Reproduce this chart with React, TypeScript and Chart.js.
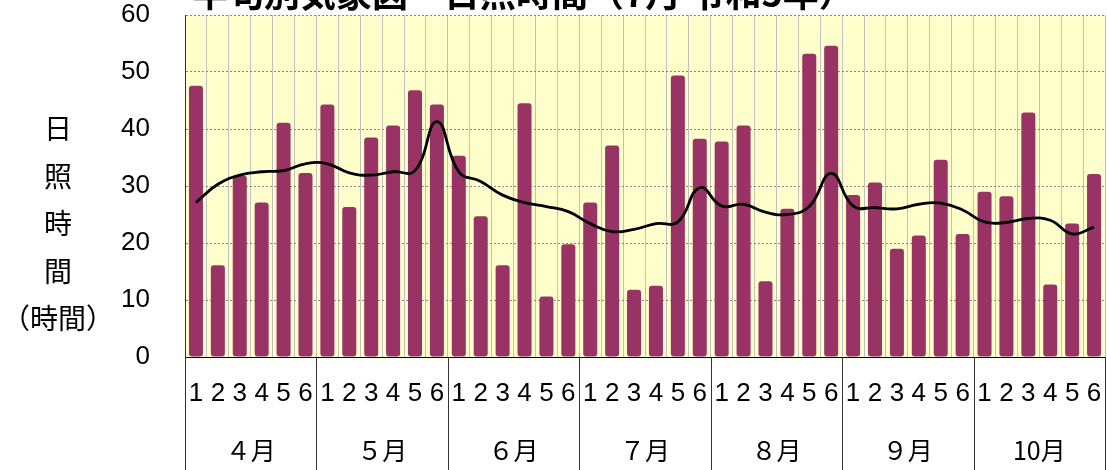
import React, { useEffect, useRef } from "react";
import { Chart, registerables } from "chart.js";

Chart.register(...registerables);

const TITLE = "半旬別気象図　日照時間（7月 令和5年）";
const Y_TITLE_CHARS = ["日", "照", "時", "間"];
const Y_TITLE_UNIT = "（時間）";

const months = ["４月", "５月", "６月", "７月", "８月", "９月", "10月"];
const pentads = ["1", "2", "3", "4", "5", "6"];
const categories: string[] = months.flatMap(() => pentads);

const sunshine = [
  47.6, 16.1, 31.8, 27.1, 41.1, 32.3,
  44.3, 26.3, 38.5, 40.6, 46.8, 44.3,
  35.3, 24.7, 16.1, 44.5, 10.6, 19.8,
  27.1, 37.1, 11.8, 12.5, 49.4, 38.3,
  37.8, 40.6, 13.3, 26.0, 53.2, 54.6,
  28.4, 30.6, 19.0, 21.3, 34.6, 21.6,
  29.0, 28.2, 42.9, 12.7, 23.4, 32.1,
];

const normal = [
  27.1, 30.3, 31.9, 32.5, 32.7, 33.9,
  33.9, 32.3, 31.9, 32.5, 32.7, 41.3,
  32.5, 30.8, 28.4, 27.1, 26.4, 25.5,
  23.4, 22.0, 22.4, 23.4, 23.7, 29.7,
  26.5, 26.8, 25.4, 25.0, 26.4, 32.2,
  26.5, 26.2, 26.0, 26.8, 27.0, 25.8,
  23.7, 23.6, 24.3, 24.0, 21.6, 22.8,
];

const yTicks = [0, 10, 20, 30, 40, 50, 60];

const CJK = '"Noto Sans CJK JP", sans-serif';
const NUM = '"Liberation Sans", Arial, sans-serif';

const decor = {
  id: "decor",
  beforeDraw(chart: any) {
    const { ctx, chartArea } = chart;
    ctx.save();
    ctx.fillStyle = "#FFFFCC";
    ctx.fillRect(chartArea.left, chartArea.top, chartArea.right - chartArea.left, chartArea.bottom - chartArea.top);
    ctx.restore();
  },
  afterDraw(chart: any) {
    const { ctx, chartArea } = chart;
    const xs = chart.scales.x;
    ctx.save();
    ctx.strokeStyle = "#333";
    ctx.lineWidth = 1;
    for (let k = 0; k <= months.length; k++) {
      const x = Math.round(xs.getPixelForValue(k * pentads.length - 0.5)) + 0.5;
      ctx.beginPath();
      ctx.moveTo(x, k === 0 ? chartArea.top : chartArea.bottom);
      ctx.lineTo(x, chart.height);
      ctx.stroke();
    }
    ctx.fillStyle = "#000";
    ctx.font = `bold 36px ${CJK}`;
    ctx.textAlign = "left";
    ctx.textBaseline = "alphabetic";
    ctx.fillText(TITLE, 192, 7);
    ctx.font = `28px ${CJK}`;
    ctx.textAlign = "center";
    ctx.textBaseline = "middle";
    const ys = [128, 176, 223, 271];
    Y_TITLE_CHARS.forEach((c, i) => ctx.fillText(c, 58, ys[i]));
    ctx.fillText(Y_TITLE_UNIT, 58, 318);
    ctx.restore();
  },
};

const noPad = (s: any) => {
  s.paddingTop = 0;
  s.paddingBottom = 0;
  s.paddingLeft = 0;
  s.paddingRight = 0;
};

export default function App() {
  const ref = useRef<HTMLCanvasElement>(null);
  useEffect(() => {
    if (!ref.current) return;
    const chart = new Chart(ref.current, {
      type: "bar",
      data: {
        labels: categories,
        datasets: [
          {
            type: "line",
            data: normal,
            borderColor: "#000",
            borderWidth: 2.8,
            pointRadius: 0,
            tension: 0.45,
            order: 0,
            xAxisID: "x",
          } as any,
          {
            type: "bar",
            data: sunshine,
            backgroundColor: "#993366",
            barPercentage: 0.64,
            categoryPercentage: 1,
            borderRadius: 3,
            borderSkipped: false,
            order: 1,
            xAxisID: "x",
          },
        ],
      },
      options: {
        animation: false,
        responsive: false,
        maintainAspectRatio: false,
        layout: { padding: { left: 0, right: 2, top: 15, bottom: 0 } },
        plugins: { legend: { display: false }, tooltip: { enabled: false }, title: { display: false } },
        scales: {
          x: {
            type: "category",
            position: "bottom",
            offset: true,
            grid: { offset: true, color: "#c0c0c0", drawTicks: false, lineWidth: 1 },
            border: { color: "#000", width: 1 },
            ticks: { font: { family: NUM, size: 26 }, color: "#000", padding: 21, maxRotation: 0, autoSkip: false },
            afterFit: (s: any) => { s.height = 58; noPad(s); },
          },
          x2: {
            type: "category",
            position: "bottom",
            labels: months,
            offset: true,
            grid: { display: false },
            border: { display: false },
            ticks: { font: { family: CJK, size: 25 }, color: "#000", padding: 12, maxRotation: 0, autoSkip: false },
            afterFit: (s: any) => { s.height = 55; noPad(s); },
          },
          y: {
            min: 0,
            max: 60,
            afterBuildTicks: (s: any) => { s.ticks = yTicks.map((v) => ({ value: v })); },
            grid: { color: "#888", drawTicks: false, lineWidth: 1 },
            border: { color: "#000", width: 1, dash: [2, 2] },
            ticks: { font: { family: NUM, size: 26 }, color: "#000", padding: 35 },
            afterFit: (s: any) => { s.width = 185; noPad(s); },
          },
        },
      },
      plugins: [decor],
    } as any);
    return () => chart.destroy();
  }, []);
  return (
    <div style={{ position: "absolute", left: 0, top: 0, width: 1107, height: 470, background: "#fff" }}>
      <canvas ref={ref} width={1107} height={470} style={{ display: "block" }} />
    </div>
  );
}
